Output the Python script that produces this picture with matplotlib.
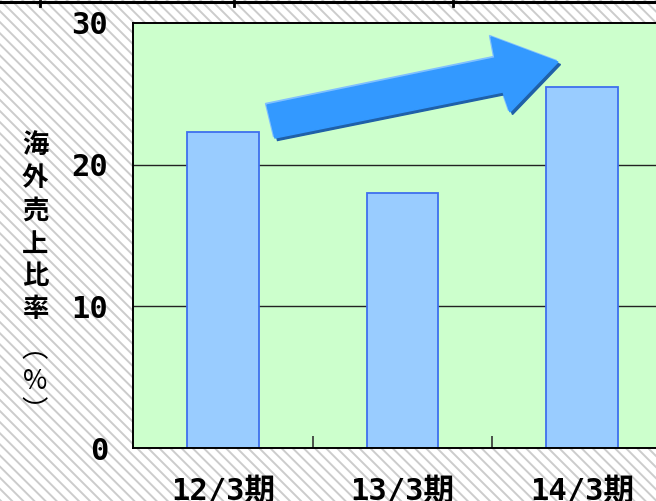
import numpy as np
import matplotlib
matplotlib.use('Agg')
import matplotlib.pyplot as plt
from matplotlib.patches import Rectangle, Polygon
from matplotlib.lines import Line2D
from matplotlib.transforms import Affine2D

plt.rcParams['font.family'] = ['Noto Sans CJK JP', 'DejaVu Sans']
plt.rcParams['hatch.color'] = '#cccccc'
plt.rcParams['hatch.linewidth'] = 1.4

# 海外売上比率 by fiscal period
periods = ['12/3期', '13/3期', '14/3期']
ratio = [22.3, 18.0, 25.5]
y_ticks = [0, 10, 20, 30]
title_chars = ['海', '外', '売', '上', '比', '率']

mono = ['DejaVu Sans Mono', 'Noto Sans CJK JP']

W, H = 656, 501
fig = plt.figure(figsize=(W / 100, H / 100), dpi=100)

# hatched page background
fig.patches.append(Rectangle((0, 0), 1, 1, transform=fig.transFigure,
                             facecolor='white', edgecolor='#cccccc',
                             hatch='\\\\\\', linewidth=0, zorder=-10))

# pixel coordinates measured from the top-left corner
px = Affine2D().scale(1 / W, -1 / H).translate(0, 1) + fig.transFigure

# frame line along the top with short ticks
fig.add_artist(Line2D([0, W], [2, 2], color='black', lw=2.2, transform=px))
for tx in [40, 234, 453]:
    fig.add_artist(Line2D([tx, tx], [1, 6], color='black', lw=2, transform=px))

ax = fig.add_axes([133.25 / W, (H - 448) / H, 538.5 / W, 425 / H])
ax.set_facecolor('#ccffcc')

x = np.arange(len(periods))
ax.bar(x, ratio, width=0.4, color='#99ccff', edgecolor='#3f6fee', linewidth=1.3, zorder=2)

ax.set_xlim(-0.5, 2.5)
ax.set_ylim(0, 30)
ax.set_yticks(y_ticks)
ax.set_yticklabels([str(v) for v in y_ticks], fontsize=22, fontweight='bold', family=mono)
ax.tick_params(axis='y', length=0, pad=18)
for v in y_ticks[1:-1]:
    ax.axhline(v, color='#222222', lw=1.0, zorder=1)

# category labels, boundary ticks pointing inward
ax.set_xticks(x)
ax.set_xticklabels(periods, fontsize=22, fontweight='bold', family=mono)
ax.tick_params(axis='x', length=0, pad=21)
ax.set_xticks([0.5, 1.5], minor=True)
ax.tick_params(axis='x', which='minor', direction='in', length=9, width=1.2, color='#333333')

for s in ['left', 'bottom', 'top', 'right']:
    ax.spines[s].set_color('black')
    ax.spines[s].set_linewidth(1.4)

# upward trend arrow with highlight and shadow edges
arrow = np.array([[267, 105], [495, 58], [491, 37], [558, 62],
                  [510, 112], [503, 92], [275, 138]])
fig.add_artist(Polygon(arrow + [-1.5, -1.5], closed=True, color='#80c0ff', transform=px, zorder=5))
fig.add_artist(Polygon(arrow + [2.5, 2.5], closed=True, color='#1f60a8', transform=px, zorder=5))
fig.add_artist(Polygon(arrow, closed=True, color='#3399ff', transform=px, zorder=6))

# vertical axis title, stacked one character per row
for i, ch in enumerate(title_chars):
    fig.text(35, 145 + 33 * i, ch, transform=px, ha='center', va='center',
             fontsize=19, fontweight='bold')
fig.text(35, 350, '︵', transform=px, ha='center', va='center',
         fontsize=19, family='Noto Sans CJK JP')
fig.text(35, 382, '%', transform=px, ha='center', va='center', fontsize=19)
fig.text(35, 412, '︶', transform=px, ha='center', va='center',
         fontsize=19, family='Noto Sans CJK JP')

fig.savefig('out.png', dpi=100)
